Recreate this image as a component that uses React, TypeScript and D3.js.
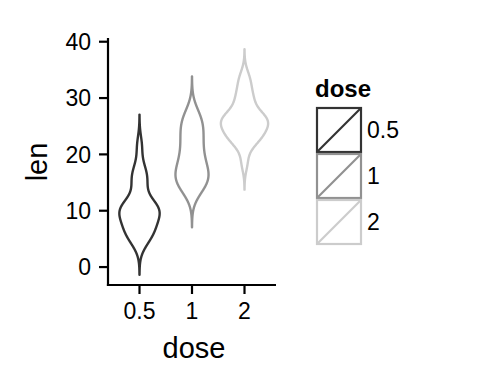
import React from "react";
import * as d3 from "d3";

// ToothGrowth: len by dose
const doses = ["0.5", "1", "2"];
const len05 = [4.2, 11.5, 7.3, 5.8, 6.4, 10.0, 11.2, 11.2, 5.2, 7.0, 15.2, 21.5, 17.6, 9.7, 14.5, 10.0, 8.2, 9.4, 16.5, 9.7];
const len1 = [16.5, 16.5, 15.2, 17.3, 22.5, 17.3, 13.6, 14.5, 18.8, 15.5, 19.7, 23.3, 23.6, 26.4, 20.0, 25.2, 25.8, 21.2, 14.5, 27.3];
const len2 = [23.6, 18.5, 33.9, 25.5, 26.4, 32.5, 26.7, 21.5, 23.3, 29.5, 25.5, 26.4, 22.4, 24.5, 24.8, 30.9, 26.4, 27.3, 29.4, 23.0];
const groups = [len05, len1, len2];
const colors = ["#333333", "#919191", "#cccccc"];
const yTicks = [0, 10, 20, 30, 40];

function bwNrd0(x: number[]) {
  const s = [...x].sort((a, b) => a - b);
  const sd = d3.deviation(s) as number;
  const iqr = (d3.quantileSorted(s, 0.75) as number) - (d3.quantileSorted(s, 0.25) as number);
  const lo = Math.min(sd, iqr / 1.34);
  return 0.9 * lo * Math.pow(s.length, -0.2);
}

function kde(x: number[]) {
  const bw = bwNrd0(x);
  const mn = (d3.min(x) as number) - 3 * bw;
  const mx = (d3.max(x) as number) + 3 * bw;
  const n = 512;
  const pts: { y: number; d: number }[] = [];
  for (let i = 0; i < n; i++) {
    const y = mn + (i * (mx - mn)) / (n - 1);
    let s = 0;
    for (const v of x) {
      const z = (y - v) / bw;
      s += Math.exp(-0.5 * z * z);
    }
    pts.push({ y, d: s / (x.length * bw * Math.sqrt(2 * Math.PI)) });
  }
  return pts;
}

export default function App() {
  const W = 480, H = 384;
  const dens = groups.map(kde);
  const maxD = d3.max(dens.flat(), (p) => p.d) as number;
  const yMin = d3.min(dens.flat(), (p) => p.y) as number;
  const yMax = d3.max(dens.flat(), (p) => p.y) as number;
  const pad = (yMax - yMin) * 0.05;

  const left = 108, right = 276, top = 38, bottom = 286;
  const bandScale = d3.scalePoint<string>().domain(doses).range([left, right]).padding(0.6);
  const y = d3.scaleLinear().domain([yMin - pad, yMax + pad]).range([bottom, top]);
  const step = (right - left) / (doses.length - 1 + 1.2);
  const wScale = d3.scaleLinear().domain([0, maxD]).range([0, step * 0.45]);

  const outline = (cx: number) =>
    d3
      .line<{ y: number; d: number; side: number }>()
      .x((p) => cx + p.side * wScale(p.d))
      .y((p) => y(p.y));

  const font = "Liberation Sans, Arial, sans-serif";
  const tickSize = 23;
  const titleSize = 29;

  return (
    <svg width={W} height={H} style={{ position: "absolute", left: 0, top: 0 }}>
      <rect width={W} height={H} fill="#fff" />
      {dens.map((pts, i) => {
        const cx = bandScale(doses[i]) as number;
        const path = [
          ...pts.map((p) => ({ ...p, side: 1 })),
          ...[...pts].reverse().map((p) => ({ ...p, side: -1 })),
        ];
        return (
          <path
            key={i}
            d={(outline(cx)(path) as string) + "Z"}
            fill="none"
            stroke={colors[i]}
            strokeWidth={2.4}
            strokeLinejoin="round"
          />
        );
      })}
      {/* axes */}
      <line x1={left} x2={left} y1={top} y2={bottom} stroke="#000" strokeWidth={2.2} />
      <line x1={left - 1.1} x2={right} y1={bottom - 1} y2={bottom - 1} stroke="#000" strokeWidth={2.2} />
      {yTicks.map((t) => (
        <g key={t}>
          <line x1={left - 9} x2={left} y1={y(t)} y2={y(t)} stroke="#000" strokeWidth={2.2} />
          <text x={left - 17} y={y(t)} dy="0.36em" textAnchor="end" fontFamily={font} fontSize={tickSize} fill="#000">
            {t}
          </text>
        </g>
      ))}
      {doses.map((dd) => (
        <g key={dd}>
          <line x1={bandScale(dd)} x2={bandScale(dd)} y1={bottom} y2={bottom + 8} stroke="#000" strokeWidth={2.2} />
          <text x={bandScale(dd)} y={bottom + 33} textAnchor="middle" fontFamily={font} fontSize={tickSize} fill="#000">
            {dd}
          </text>
        </g>
      ))}
      <text x={(left + right) / 2 + 2} y={358} textAnchor="middle" fontFamily={font} fontSize={titleSize} fill="#000">
        dose
      </text>
      <text
        transform={`translate(47,${(top + bottom) / 2}) rotate(-90)`}
        textAnchor="middle"
        fontFamily={font}
        fontSize={titleSize}
        fill="#000"
      >
        len
      </text>
      {/* legend */}
      <text x={315} y={97} fontFamily={font} fontSize={tickSize + 1} fontWeight="bold" fill="#000">
        dose
      </text>
      {doses.map((dd, i) => {
        const ky = 107 + i * 46;
        return (
          <g key={dd}>
            <rect x={317} y={ky + 1} width={44} height={44} fill="none" stroke={colors[i]} strokeWidth={2.2} />
            <line x1={317} y1={ky + 45} x2={361} y2={ky + 1} stroke={colors[i]} strokeWidth={2.2} />
            <text x={367} y={ky + 23} dy="0.36em" fontFamily={font} fontSize={tickSize} fill="#000">
              {dd}
            </text>
          </g>
        );
      })}
    </svg>
  );
}
